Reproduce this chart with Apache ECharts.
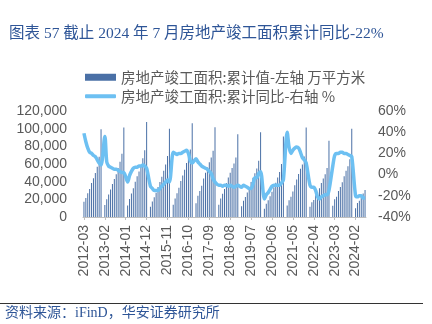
<!DOCTYPE html>
<html><head><meta charset="utf-8">
<script src="https://cdn.jsdelivr.net/npm/echarts@6/dist/echarts.min.js"></script>
<style>html,body{margin:0;padding:0;background:#fff}#c{width:432px;height:324px}</style>
</head><body><div id="c"></div>
<script>
// 房地产竣工面积:累计值 (万平方米), Jan has no data (null)
const area2012 = [17300, 21500, 27000, 31600, 38400, 44000, 49700, 56800, 68100, 99425]; // Mar-Dec
const area2013 = [null, 13500, 20000, 25500, 31000, 37500, 43000, 48500, 55500, 62500, 71500, 101435];
const area2014 = [null, 13000, 20500, 26500, 32500, 40000, 46000, 51500, 59000, 66500, 75500, 107459];
const area2015 = [null, 11500, 17500, 22500, 27500, 34000, 39500, 45500, 52500, 59500, 69000, 100039];
const area2016 = [null, 13800, 21000, 27000, 33000, 40700, 47000, 53500, 61000, 67500, 76500, 106128];
const area2017 = [null, 15500, 24000, 29500, 35500, 43500, 50000, 56000, 62000, 67500, 75000, 101486];
const area2018 = [null, 13800, 21000, 26200, 31700, 38500, 44700, 50000, 55500, 60500, 67500, 93550];
const area2019 = [null, 12100, 18500, 22700, 27700, 33800, 39500, 44500, 49500, 55000, 63800, 95942];
const area2020 = [null, 9300, 15000, 19000, 23500, 28600, 33700, 38800, 44800, 51000, 60000, 91218];
const area2021 = [null, 13000, 19000, 22800, 28800, 36000, 42400, 48800, 54500, 59400, 68500, 101412];
const area2022 = [null, 11700, 16800, 19200, 24500, 28300, 32600, 38600, 43700, 48300, 55500, 86222];
const area2023 = [null, 12600, 20000, 23000, 29400, 34000, 39300, 46000, 52400, 57400, 65400, 99831];
const area2024 = [null, 10000, 15900, 18300, 23500, 26500, 30700]; // Jan-Jul

// 房地产竣工面积:累计同比 (%)
const yoy2012 = [39, 31, 25, 21, 20, 18, 17, 14, 11, 9]; // Mar-Dec
const yoy2013 = [null, 36, 12, 8, 7, 6, 5, 5, 4, 3, 2, 2];
const yoy2014 = [null, -7, -1, 3, 6, 7, 7, 8, 8, 9, 8, 6];
const yoy2015 = [null, -11, -13, -15, -15, -15, -13, -11, -9, -7, -5, -7];
const yoy2016 = [null, 21, 20, 19, 20, 20, 21, 22, 23, 20, 13, 11];
const yoy2017 = [null, 15, 12, 10, 8, 7, 6, 5, 3, 1, -4, -7];
const yoy2018 = [null, -10, -10, -11, -10, -10, -11, -10, -11, -12, -11, -10];
const yoy2019 = [null, -12, -10, -11, -12, -13, -13, -9, -3, -3, 1, 2.6];
const yoy2020 = [null, -23, -19, -17, -14, -11, -10, -10, -10, -10, -8, -5];
const yoy2021 = [null, 40, 26, 20, 23, 25, 26, 25, 21, 16, 14, 11];
const yoy2022 = [null, -10, -12, -12, -15, -21, -23, -21, -20, -19, -19, -15];
const yoy2023 = [null, 8, 18, 20, 20, 21, 21, 20, 20, 19, 18, 17];
const yoy2024 = [null, -20, -21, -20, -20, -22, -22];

const areaValues = [].concat(area2012, area2013, area2014, area2015, area2016, area2017, area2018,
  area2019, area2020, area2021, area2022, area2023, area2024);
const yoyValues = [].concat(yoy2012, yoy2013, yoy2014, yoy2015, yoy2016, yoy2017, yoy2018,
  yoy2019, yoy2020, yoy2021, yoy2022, yoy2023, yoy2024);

const categories = [];
for (let y = 2012, m = 3; y < 2024 || (y === 2024 && m <= 7); ) {
  categories.push(y + '-' + (m < 10 ? '0' + m : '' + m));
  m++; if (m > 12) { m = 1; y++; }
}

const leftTicks = [0, 20000, 40000, 60000, 80000, 100000, 120000];
const rightTicks = [-40, -20, 0, 20, 40, 60];

const titleText = '图表 57 截止 2024 年 7 月房地产竣工面积累计同比-22%';
const sourceText = '资料来源：iFinD，华安证券研究所';
const nameArea = '房地产竣工面积:累计值-左轴 万平方米';
const nameYoy = '房地产竣工面积:累计同比-右轴 %';

const serif = "'Liberation Serif', 'Noto Sans CJK SC', serif";
const sans = "'Liberation Sans', Arial, sans-serif";
const grey = '#595959';
const legendText = {fontSize: 14.5, color: grey, fontFamily: "'Noto Sans CJK SC', sans-serif"};

const chart = echarts.init(document.getElementById('c'), null, {renderer: 'canvas'});
chart.setOption({
  animation: false,
  backgroundColor: '#fff',
  title: {
    text: titleText, left: 4, top: 21,
    textStyle: {fontSize: 15.5, fontWeight: 'normal', color: '#2E5597', fontFamily: serif}
  },
  legend: [{
    orient: 'vertical', left: 80, top: 65,
    itemWidth: 31, itemHeight: 7, itemGap: 6,
    textStyle: legendText,
    data: [{name: nameArea, icon: 'rect'}]
  }, {
    orient: 'vertical', left: 80, top: 84,
    itemWidth: 31, itemHeight: 4, itemGap: 6,
    textStyle: legendText,
    data: [{name: nameYoy, icon: 'roundRect'}]
  }],
  grid: {left: 83, right: 66, top: 111, bottom: 107, containLabel: false},
  xAxis: {
    type: 'category', data: categories, boundaryGap: true,
    axisLine: {show: true, lineStyle: {color: '#BFBFBF', width: 1}},
    axisTick: {show: true, interval: 10, alignWithLabel: true, length: 3, lineStyle: {color: '#BFBFBF'}},
    axisLabel: {interval: 10, rotate: 90, fontSize: 14, color: grey, fontFamily: sans, margin: 8}
  },
  yAxis: [{
    type: 'value', min: leftTicks[0], max: leftTicks[leftTicks.length - 1], interval: 20000,
    axisLine: {show: false}, axisTick: {show: false}, splitLine: {show: false},
    axisLabel: {fontSize: 14, color: grey, fontFamily: sans, margin: 16,
      formatter: v => v.toLocaleString('en-US')}
  }, {
    type: 'value', min: rightTicks[0], max: rightTicks[rightTicks.length - 1], interval: 20,
    axisLine: {show: false}, axisTick: {show: false}, splitLine: {show: false},
    axisLabel: {fontSize: 14, color: grey, fontFamily: sans, margin: 12, formatter: '{value}%'}
  }],
  series: [{
    name: nameArea, type: 'bar', yAxisIndex: 0, data: areaValues,
    barWidth: 1, itemStyle: {color: '#4A70A6'}, z: 2
  }, {
    name: nameYoy, type: 'line', yAxisIndex: 1, data: yoyValues,
    connectNulls: true, symbol: 'none', showSymbol: false, smooth: 0.3,
    lineStyle: {color: '#6DC0F2', width: 3.5}, itemStyle: {color: '#6DC0F2'}, z: 3
  }],
  graphic: [{
    type: 'line', shape: {x1: 0, y1: 303.5, x2: 423, y2: 303.5},
    style: {stroke: '#333', lineWidth: 1}
  }, {
    type: 'text', left: 5, top: 306,
    style: {text: sourceText, fontSize: 14, fill: '#2E5597', fontFamily: serif}
  }]
});
</script></body></html>
